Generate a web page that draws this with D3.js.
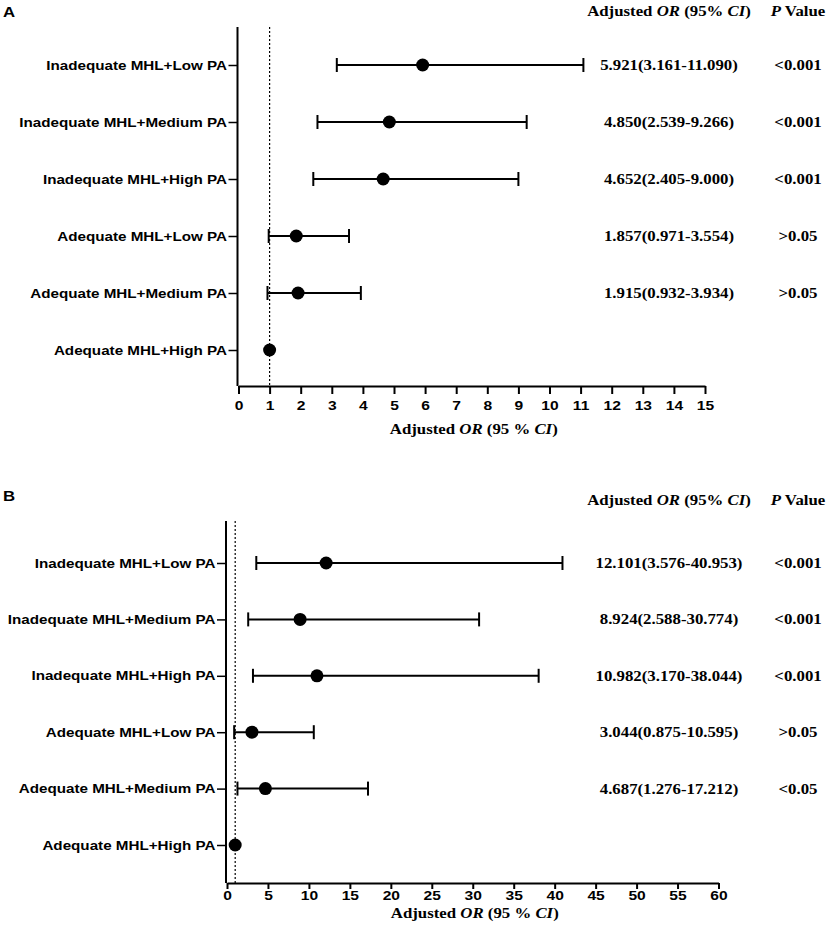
<!DOCTYPE html>
<html>
<head>
<meta charset="utf-8">
<script src="https://cdn.jsdelivr.net/npm/d3@7"></script>
<style>
  body { margin: 0; background: #fff; }
  .cat { font-family: "Liberation Sans", Arial, sans-serif; font-weight: bold; font-size: 14px; }
  .tick text { font-family: "Liberation Sans", Arial, sans-serif; font-weight: bold; font-size: 13px; }
  .serif { font-family: "Liberation Serif", "Times New Roman", serif; font-weight: bold; font-size: 14px; }
</style>
</head>
<body>
<div id="chart"></div>
<script>
const svgWidth = 829
const svgHeight = 944
const stretch = 1.2   // the source figure is widened a bit
const catStretch = 1.17

// categories (top to bottom)
const groups = [
  "Inadequate MHL+Low PA",
  "Inadequate MHL+Medium PA",
  "Inadequate MHL+High PA",
  "Adequate MHL+Low PA",
  "Adequate MHL+Medium PA",
  "Adequate MHL+High PA"
]

// panel A
const orA = [5.921, 4.850, 4.652, 1.857, 1.915, 1]
const lowA = [3.161, 2.539, 2.405, 0.971, 0.932, null]
const highA = [11.090, 9.266, 9.000, 3.554, 3.934, null]
const pA = ["<0.001", "<0.001", "<0.001", ">0.05", ">0.05", ""]
const ticksA = d3.range(0, 16, 1)

// panel B
const orB = [12.101, 8.924, 10.982, 3.044, 4.687, 1]
const lowB = [3.576, 2.588, 3.170, 0.875, 1.276, null]
const highB = [40.953, 30.774, 38.044, 10.595, 17.212, null]
const pB = ["<0.001", "<0.001", "<0.001", ">0.05", "<0.05", ""]
const ticksB = d3.range(0, 61, 5)

let svg = d3
  .select("#chart")
  .append("svg")
  .attr("width", svgWidth)
  .attr("height", svgHeight)

function fmt(v) {
  return v.toFixed(3)
}

// text placed at (x, y) and stretched horizontally
function wideText(parent, cls, x, y, anchor) {
  return parent.append("text")
    .attr("class", cls)
    .attr("transform", `translate(${x}, ${y}) scale(${stretch}, 1)`)
    .attr("text-anchor", anchor)
}

function orLabel(t, space) {
  t.append("tspan").text("Adjusted ")
  t.append("tspan").style("font-style", "italic").text("OR")
  t.append("tspan").text(space ? " (95 % " : " (95% ")
  t.append("tspan").style("font-style", "italic").text("CI")
  t.append("tspan").text(")")
}

function drawPanel(opts) {
  let { letter, top, left, right, axisY, xMax, ticks, or, low, high, p, rowY0, rowStep,
        tickLen, tickPad, titleOff, headOff, letterY } = opts
  let g = svg.append("g")

  let x = d3.scaleLinear().domain([0, xMax]).range([left, right])
  let y = d3.scalePoint()
    .domain(groups)
    .range([rowY0, rowY0 + rowStep * (groups.length - 1)])

  wideText(g, "cat", 3, letterY, "start")
    .text(letter)

  // x axis
  g.append("g")
    .attr("transform", `translate(0, ${axisY})`)
    .call(d3.axisBottom(x).tickValues(ticks).tickSize(tickLen).tickPadding(tickPad).tickSizeOuter(0))
    .call(a => a.select(".domain").attr("stroke-width", 2))
    .call(a => a.selectAll(".tick line").attr("stroke-width", 2))
    .call(a => a.selectAll(".tick text").attr("transform", `scale(${stretch}, 1)`))

  // y axis
  g.append("g")
    .attr("transform", `translate(${left - 1}, 0)`)
    .call(d3.axisLeft(y).tickSize(9).tickPadding(1.5).tickSizeOuter(0))
    .call(a => a.select(".domain").attr("d", `M0,${top}V${axisY}`).attr("stroke-width", 2))
    .call(a => a.selectAll(".tick line").attr("stroke-width", 1.5))
    .call(a => a.selectAll(".tick text")
      .attr("class", "cat")
      .attr("x", -10.5 / catStretch)
      .attr("transform", `scale(${catStretch}, 1)`))

  // reference line at OR = 1
  g.append("line")
    .attr("x1", x(1)).attr("x2", x(1))
    .attr("y1", top).attr("y2", axisY)
    .attr("stroke", "#000")
    .attr("stroke-width", 1.2)
    .attr("stroke-dasharray", "2,2")

  let rows = groups.map((d, i) => ({ name: d, or: or[i], low: low[i], high: high[i], p: p[i] }))

  let ci = rows.filter(d => d.low != null)
  g.selectAll(".ci")
    .data(ci)
    .enter()
    .append("line")
    .attr("x1", d => x(d.low)).attr("x2", d => x(d.high))
    .attr("y1", d => y(d.name)).attr("y2", d => y(d.name))
    .attr("stroke", "#000").attr("stroke-width", 2)
  g.selectAll(".capL")
    .data(ci)
    .enter()
    .append("line")
    .attr("x1", d => x(d.low)).attr("x2", d => x(d.low))
    .attr("y1", d => y(d.name) - 7).attr("y2", d => y(d.name) + 7)
    .attr("stroke", "#000").attr("stroke-width", 2)
  g.selectAll(".capR")
    .data(ci)
    .enter()
    .append("line")
    .attr("x1", d => x(d.high)).attr("x2", d => x(d.high))
    .attr("y1", d => y(d.name) - 7).attr("y2", d => y(d.name) + 7)
    .attr("stroke", "#000").attr("stroke-width", 2)

  g.selectAll(".dot")
    .data(rows)
    .enter()
    .append("circle")
    .attr("cx", d => x(d.or))
    .attr("cy", d => y(d.name))
    .attr("r", 6.5)
    .attr("fill", "#000")

  // right-side table
  orLabel(wideText(g, "serif", 669, top - headOff, "middle"), false)

  let ph = wideText(g, "serif", 798, top - headOff, "middle")
  ph.append("tspan").style("font-style", "italic").text("P")
  ph.append("tspan").text(" Value")

  ci.forEach(d => {
    wideText(g, "serif", 669, y(d.name) + 5, "middle")
      .text(`${fmt(d.or)}(${fmt(d.low)}-${fmt(d.high)})`)
    wideText(g, "serif", 798, y(d.name) + 5, "middle")
      .text(d.p)
  })

  // x axis title
  orLabel(wideText(g, "serif", (left + right) / 2 + 2, axisY + titleOff, "middle"), true)
}

drawPanel({
  letter: "A", top: 27, left: 238.5, right: 705, axisY: 386, xMax: 15, ticks: ticksA,
  or: orA, low: lowA, high: highA, p: pA, rowY0: 65, rowStep: 57,
  tickLen: 8, tickPad: 7, titleOff: 48, headOff: 11, letterY: 17
})

drawPanel({
  letter: "B", top: 521, left: 227, right: 718.5, axisY: 883, xMax: 60, ticks: ticksB,
  or: orB, low: lowB, high: highB, p: pB, rowY0: 563, rowStep: 56.4,
  tickLen: 6, tickPad: 1.5, titleOff: 35, headOff: 16, letterY: 501
})
</script>
</body>
</html>
